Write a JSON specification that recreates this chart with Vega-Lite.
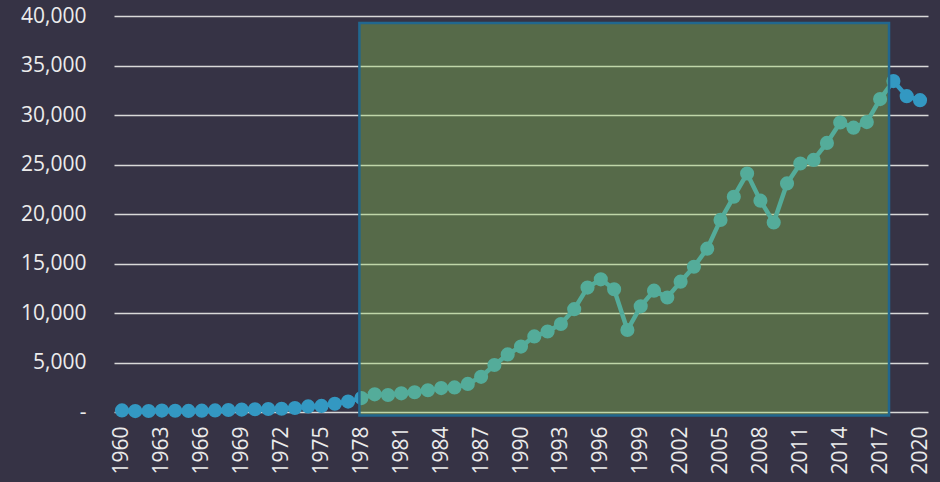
{
  "$schema": "https://vega.github.io/schema/vega-lite/v6.json",
  "width": 814,
  "height": 396,
  "autosize": {"type": "none"},
  "padding": {"left": 114, "top": 16, "right": 12, "bottom": 70},
  "background": "#363345",
  "config": {
    "view": {"stroke": null},
    "axis": {"labelFont": "Open Sans", "labelFontSize": 21, "labelColor": "#ececec", "domain": false, "ticks": false, "title": null}
  },
  "datasets": {
    "gdp": [
      {"year": 1960, "value": 158}, {"year": 1961, "value": 94}, {"year": 1962, "value": 106},
      {"year": 1963, "value": 146}, {"year": 1964, "value": 124}, {"year": 1965, "value": 108},
      {"year": 1966, "value": 133}, {"year": 1967, "value": 161}, {"year": 1968, "value": 198},
      {"year": 1969, "value": 243}, {"year": 1970, "value": 279}, {"year": 1971, "value": 301},
      {"year": 1972, "value": 324}, {"year": 1973, "value": 407}, {"year": 1974, "value": 563},
      {"year": 1975, "value": 617}, {"year": 1976, "value": 834}, {"year": 1977, "value": 1055},
      {"year": 1978, "value": 1405}, {"year": 1979, "value": 1783}, {"year": 1980, "value": 1715},
      {"year": 1981, "value": 1883}, {"year": 1982, "value": 1992}, {"year": 1983, "value": 2199},
      {"year": 1984, "value": 2413}, {"year": 1985, "value": 2482}, {"year": 1986, "value": 2835},
      {"year": 1987, "value": 3555}, {"year": 1988, "value": 4748}, {"year": 1989, "value": 5817},
      {"year": 1990, "value": 6610}, {"year": 1991, "value": 7637}, {"year": 1992, "value": 8127},
      {"year": 1993, "value": 8885}, {"year": 1994, "value": 10385}, {"year": 1995, "value": 12565},
      {"year": 1996, "value": 13403}, {"year": 1997, "value": 12398}, {"year": 1998, "value": 8282},
      {"year": 1999, "value": 10672}, {"year": 2000, "value": 12257}, {"year": 2001, "value": 11561},
      {"year": 2002, "value": 13165}, {"year": 2003, "value": 14673}, {"year": 2004, "value": 16497},
      {"year": 2005, "value": 19403}, {"year": 2006, "value": 21743}, {"year": 2007, "value": 24086},
      {"year": 2008, "value": 21350}, {"year": 2009, "value": 19144}, {"year": 2010, "value": 23087},
      {"year": 2011, "value": 25096}, {"year": 2012, "value": 25467}, {"year": 2013, "value": 27178},
      {"year": 2014, "value": 29242}, {"year": 2015, "value": 28724}, {"year": 2016, "value": 29287},
      {"year": 2017, "value": 31605}, {"year": 2018, "value": 33423}, {"year": 2019, "value": 31902},
      {"year": 2020, "value": 31500}
    ],
    "band": [
      {"start": 1977.85, "end": 2017.67, "low": -350, "high": 39300}
    ]
  },
  "layer": [
    {
      "data": {"name": "gdp"},
      "mark": {"type": "line", "color": "#3398c2", "strokeWidth": 4.5, "point": {"filled": true, "size": 200, "color": "#3398c2", "opacity": 1}},
      "encoding": {
        "x": {
          "field": "year", "type": "quantitative",
          "scale": {"domain": [1959.4, 2020.6], "nice": false, "zero": false},
          "axis": {
            "values": [1960, 1963, 1966, 1969, 1972, 1975, 1978, 1981, 1984, 1987, 1990, 1993, 1996, 1999, 2002, 2005, 2008, 2011, 2014, 2017, 2020],
            "format": "d", "labelAngle": -90, "labelAlign": "right", "labelBaseline": "middle",
            "labelPadding": 14, "grid": false, "labelFlush": false, "labelOverlap": false
          }
        },
        "y": {
          "field": "value", "type": "quantitative",
          "scale": {"domain": [0, 40000], "nice": false},
          "axis": {
            "values": [0, 5000, 10000, 15000, 20000, 25000, 30000, 35000, 40000],
            "labelExpr": "datum.value == 0 ? '-\u2007\u2007' : format(datum.value, ',')",
            "labelPadding": 28, "grid": true, "gridColor": "#d9d9d9", "gridWidth": 1.5, "gridOpacity": 1
          }
        }
      }
    },
    {
      "data": {"name": "band"},
      "mark": {"type": "rect", "fill": "#92d050", "fillOpacity": 0.35, "stroke": "#21678f", "strokeWidth": 2.5, "clip": false},
      "encoding": {
        "x": {"field": "start", "type": "quantitative"},
        "x2": {"field": "end"},
        "y": {"field": "low", "type": "quantitative"},
        "y2": {"field": "high"}
      }
    }
  ]
}
